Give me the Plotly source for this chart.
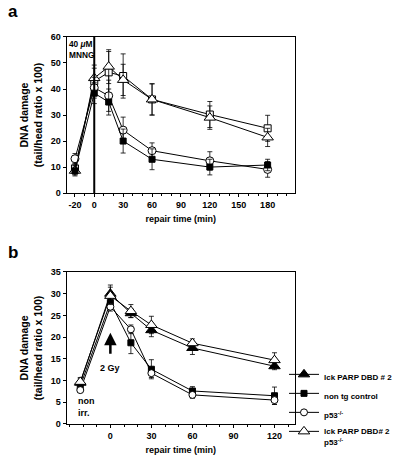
import plotly.graph_objects as go

# ---------------- Panel a data ----------------
time_a = [-20, 0, 15, 30, 60, 120, 180]
a_filled_sq = [8.5, 38.4, 35.0, 20.0, 13.0, 10.0, 10.8]
a_filled_sq_err = [1.5, 4.0, 5.0, 4.6, 4.0, 3.0, 2.2]
a_open_circ = [13.2, 40.5, 37.4, 24.2, 16.3, 12.4, 9.1]
a_open_circ_err = [2.0, 4.0, 6.0, 5.0, 3.0, 3.5, 3.0]
a_open_tri = [8.6, 44.2, 48.6, 43.5, 36.0, 29.0, 21.4]
a_open_tri_err = [2.0, 5.0, 6.5, 6.0, 6.0, 4.5, 3.5]
a_open_sq = [9.5, 43.0, 46.4, 45.0, 36.0, 30.2, 24.9]
a_open_sq_err = [2.0, 5.0, 8.0, 8.5, 6.0, 5.0, 5.0]

# ---------------- Panel b data ----------------
time_b = [-22, 0, 15, 30, 60, 120]
b_filled_tri = [9.5, 30.0, 25.5, 21.6, 17.5, 13.3]
b_filled_tri_err = [1.0, 2.0, 1.0, 1.5, 1.5, 0.8]
b_filled_sq = [8.7, 28.0, 18.7, 12.6, 7.6, 6.5]
b_filled_sq_err = [1.0, 1.5, 2.5, 2.2, 1.0, 2.0]
b_open_circ = [7.8, 27.0, 21.8, 11.7, 6.7, 5.5]
b_open_circ_err = [0.5, 1.0, 1.0, 1.0, 0.8, 1.0]
b_open_tri = [9.7, 29.5, 26.0, 22.8, 18.6, 14.7]
b_open_tri_err = [1.0, 2.0, 1.5, 2.0, 1.0, 1.7]

legend_names = ["lck PARP DBD # 2", "non tg control", "p53<sup>-/-</sup>",
                "lck PARP DBD# 2<br>p53<sup>-/-</sup>"]

xticks_a = [-20, 0, 30, 60, 90, 120, 150, 180]
xticklabels_a = ["-20", "0", "30", "60", "90", "120", "150", "180"]
yticks_a = [0, 10, 20, 30, 40, 50, 60]
xticks_b = [0, 30, 60, 90, 120]
yticks_b = [0, 5, 10, 15, 20, 25, 30, 35]

FONT = "Liberation Sans, Arial, sans-serif"
fig = go.Figure()


def add(x, y, err, symbol, size, fill, xa, ya, name=None, legend=False):
    fig.add_trace(go.Scatter(
        x=x, y=y, mode="lines+markers", xaxis=xa, yaxis=ya,
        name=name if name else "series", showlegend=legend,
        line=dict(color="black", width=1),
        marker=dict(symbol=symbol, size=size, color=fill,
                    line=dict(color="black", width=1)),
        error_y=dict(type="data", array=err, color="black", thickness=0.8, width=2.5),
    ))


# panel a
add(time_a, a_open_sq, a_open_sq_err, "square", 7, "white", "x", "y")
add(time_a, a_open_tri, a_open_tri_err, "triangle-up", 10, "white", "x", "y")
add(time_a, a_open_circ, a_open_circ_err, "circle", 8, "white", "x", "y")
add(time_a, a_filled_sq, a_filled_sq_err, "square", 6, "black", "x", "y")

# panel b
add(time_b, b_filled_tri, b_filled_tri_err, "triangle-up", 10, "black", "x2", "y2", legend_names[0], True)
add(time_b, b_filled_sq, b_filled_sq_err, "square", 6, "black", "x2", "y2", legend_names[1], True)
add(time_b, b_open_circ, b_open_circ_err, "circle", 7, "white", "x2", "y2", legend_names[2], True)
add(time_b, b_open_tri, b_open_tri_err, "triangle-up", 10, "white", "x2", "y2", legend_names[3], True)

axis_common = dict(showline=True, linecolor="black", linewidth=1, mirror=True,
                   ticks="outside", ticklen=3, tickcolor="black", showgrid=False,
                   zeroline=False,
                   tickfont=dict(family=FONT, size=9, color="black", weight="bold"))
xtitle_font = dict(family=FONT, size=9, color="black", weight="bold")
ytitle_font = dict(family=FONT, size=10.5, color="black", weight="bold")
minor_x = dict(dtick=10, tick0=0, ticklen=2, ticks="outside", tickcolor="black")

fig.update_layout(
    width=400, height=462, margin=dict(l=0, r=0, t=0, b=0, autoexpand=False),
    paper_bgcolor="white", plot_bgcolor="white",
    font=dict(family=FONT, color="black"),
    xaxis=dict(domain=[0.1665, 0.7375], range=[-28.7, 208.4], tickvals=xticks_a,
               ticktext=xticklabels_a, minor=minor_x,
               title=dict(text="repair time (min)", font=xtitle_font, standoff=6),
               anchor="y", **axis_common),
    yaxis=dict(domain=[0.582, 0.92], range=[0, 60], tickvals=yticks_a,
               title=dict(text="DNA damage<br>(tail/head ratio x 100)", font=ytitle_font, standoff=6),
               anchor="x", **axis_common),
    xaxis2=dict(domain=[0.1665, 0.7375], range=[-32, 135], tickvals=xticks_b,
                minor=minor_x,
                title=dict(text="repair time (min)", font=xtitle_font, standoff=6),
                anchor="y2", **axis_common),
    yaxis2=dict(domain=[0.0823, 0.4113], range=[0, 35], tickvals=yticks_b,
                title=dict(text="DNA damage<br>(tail/head ratio x 100)", font=ytitle_font, standoff=6),
                anchor="x2", **axis_common),
    legend=dict(x=0.71, y=0.215, xanchor="left", yanchor="top", valign="top",
                font=dict(family=FONT, size=8, color="black", weight="bold"),
                bgcolor="rgba(0,0,0,0)", tracegroupgap=0, itemwidth=30),
)

# vertical MNNG line at time 0 in panel a
fig.add_shape(type="line", xref="x", yref="y", x0=0, x1=0, y0=0, y1=60,
              line=dict(color="black", width=2))

annots = [
    dict(text="a", xref="paper", yref="paper", x=0.015, y=0.975, xanchor="left", yanchor="middle",
         font=dict(family=FONT, size=17, weight="bold")),
    dict(text="b", xref="paper", yref="paper", x=0.015, y=0.453, xanchor="left", yanchor="middle",
         font=dict(family=FONT, size=17, weight="bold")),
    dict(text="40 <i>μ</i>M<br>MNNG", xref="x", yref="y", x=-28.2, y=59.8, xanchor="left",
         yanchor="top", align="left", font=dict(family=FONT, size=8.3, weight="bold")),
    dict(text="2 Gy", xref="x2", yref="y2", x=0, y=13, xanchor="center", yanchor="middle",
         font=dict(family=FONT, size=9, weight="bold")),
    dict(text="non<br>irr.", xref="x2", yref="y2", x=-25, y=3.8, xanchor="left", yanchor="middle",
         align="left", font=dict(family=FONT, size=9, weight="bold")),
]
for a in annots:
    fig.add_annotation(showarrow=False, **a)

fig.add_annotation(x=0, y=21, ax=0, ay=15.8, xref="x2", yref="y2", axref="x2", ayref="y2",
                   showarrow=True, arrowhead=2, arrowsize=1, arrowwidth=2.5, arrowcolor="black", text="")

fig.write_html("out.html", config={"displayModeBar": False},
               post_script="document.body.style.margin='0';document.body.style.overflow='hidden';")
